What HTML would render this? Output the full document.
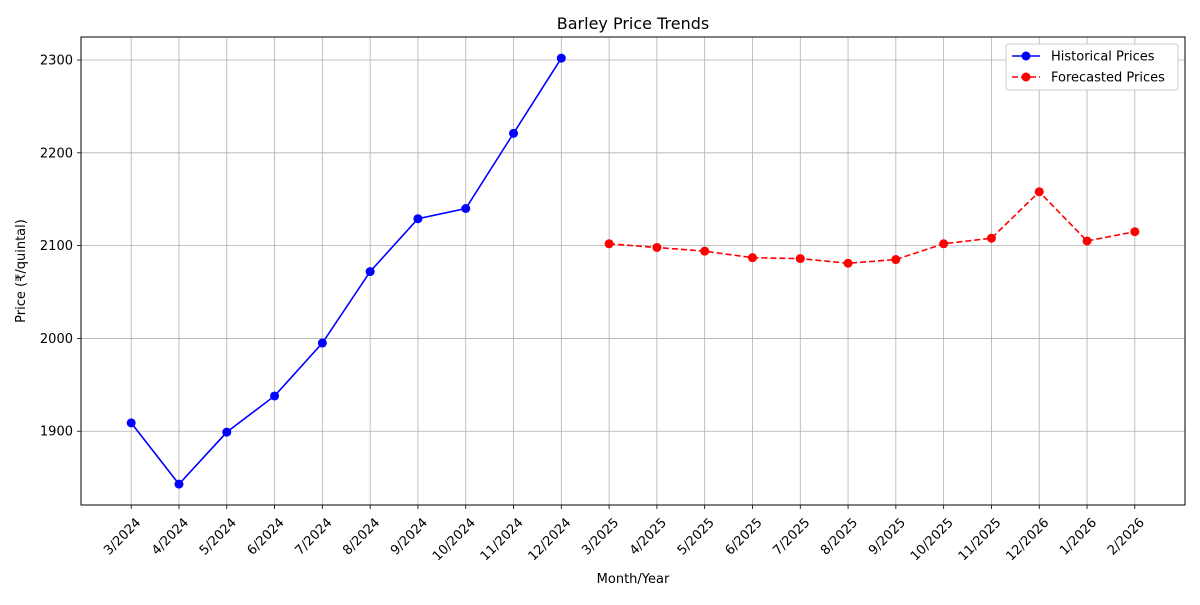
<!DOCTYPE html>
<html><head><meta charset="utf-8">
<style>
body{margin:0;background:#fff;font-family:"Liberation Sans","DejaVu Sans",sans-serif;}
svg text{font-family:"DejaVu Sans","Liberation Sans",sans-serif;}
</style></head>
<body>
<svg id="chart" width="1200" height="600" xmlns="http://www.w3.org/2000/svg"></svg>
<script>
const categories=["3/2024","4/2024","5/2024","6/2024","7/2024","8/2024","9/2024","10/2024","11/2024","12/2024","3/2025","4/2025","5/2025","6/2025","7/2025","8/2025","9/2025","10/2025","11/2025","12/2026","1/2026","2/2026"];
const historical=[1909,1843,1899,1938,1995,2072,2129,2140,2221,2302];
const forecast=[2102,2098,2094,2087,2086,2081,2085,2102,2108,2158,2105,2115];
const forecastStart=10;
const yTicks=[1900,2000,2100,2200,2300];

const svg=document.getElementById('chart');
const NS='http://www.w3.org/2000/svg';
const L=81,R=1185,T=37,B=505;
const yMin=1820.5,yMax=2324.8;
const xMin=-1.05,xMax=categories.length-1+1.05;
const xs=i=>L+(i-xMin)/(xMax-xMin)*(R-L);
const ys=v=>B-(v-yMin)/(yMax-yMin)*(B-T);
function mk(tag,attrs,parent){const e=document.createElementNS(NS,tag);for(const k in attrs)e.setAttribute(k,attrs[k]);(parent||svg).appendChild(e);return e;}

const grid=mk('g',{});


categories.forEach((c,i)=>{
  const x=xs(i);
  mk('line',{x1:x,x2:x,y1:T,y2:B,stroke:'#b0b0b0','stroke-width':0.8},grid);
  mk('line',{x1:x,x2:x,y1:B,y2:B+4,stroke:'#000','stroke-width':0.8});
  const t=mk('text',{x:0,y:0,'font-size':13,'text-anchor':'end',transform:`translate(${x+4},${B+12}) rotate(-45)`,'dominant-baseline':'hanging'});
  t.textContent=c;
  
  
});
yTicks.forEach(v=>{
  const y=ys(v);
  mk('line',{x1:L,x2:R,y1:y,y2:y,stroke:'#b0b0b0','stroke-width':0.8},grid);
  mk('line',{x1:L-4,x2:L,y1:y,y2:y,stroke:'#000','stroke-width':0.8});
  const t=mk('text',{x:L-8,y:y+4.5,'font-size':13,'text-anchor':'end'});
  t.textContent=v;
  
  
});
const frame=mk('rect',{x:L,y:T,width:R-L,height:B-T,fill:'none',stroke:'#000','stroke-width':1});



function series(vals,off,color,dash,name){
  const g=mk('g',{});
  
  
  const pts=vals.map((v,i)=>xs(i+off)+','+ys(v)).join(' ');
  mk('polyline',{points:pts,fill:'none',stroke:color,'stroke-width':1.6,'stroke-dasharray':dash||'none'},g);
  vals.forEach((v,i)=>{
    const c=mk('circle',{cx:xs(i+off),cy:ys(v),r:4.5,fill:color},g);
    
    
  });
}
series(historical,0,'#0000ff',null,'historical-series');
series(forecast,forecastStart,'#ff0000','6 3','forecast-series');

const title=mk('text',{x:(L+R)/2,y:29,'font-size':16,'text-anchor':'middle'});
title.textContent='Barley Price Trends';


const xt=mk('text',{x:(L+R)/2,y:583,'font-size':13,'text-anchor':'middle'});
xt.textContent='Month/Year';


const yt=mk('text',{x:0,y:0,'font-size':13,'text-anchor':'middle',transform:`translate(25,${(T+B)/2}) rotate(-90)`});
yt.textContent='Price (₹/quintal)';



const lg=mk('g',{});


mk('rect',{x:1006,y:44,width:172,height:46,rx:3,fill:'#fff',stroke:'#ccc'},lg);
[['Historical Prices','#0000ff',null,56],['Forecasted Prices','#ff0000','6 3',77]].forEach(([n,c,d,y])=>{
  mk('line',{x1:1012,x2:1040,y1:y,y2:y,stroke:c,'stroke-width':1.6,'stroke-dasharray':d||'none'},lg);
  mk('circle',{cx:1026,cy:y,r:4.5,fill:c},lg);
  const t=mk('text',{x:1051,y:y+4.5,'font-size':13},lg);
  t.textContent=n;
  
  
});
</script>
</body></html>
